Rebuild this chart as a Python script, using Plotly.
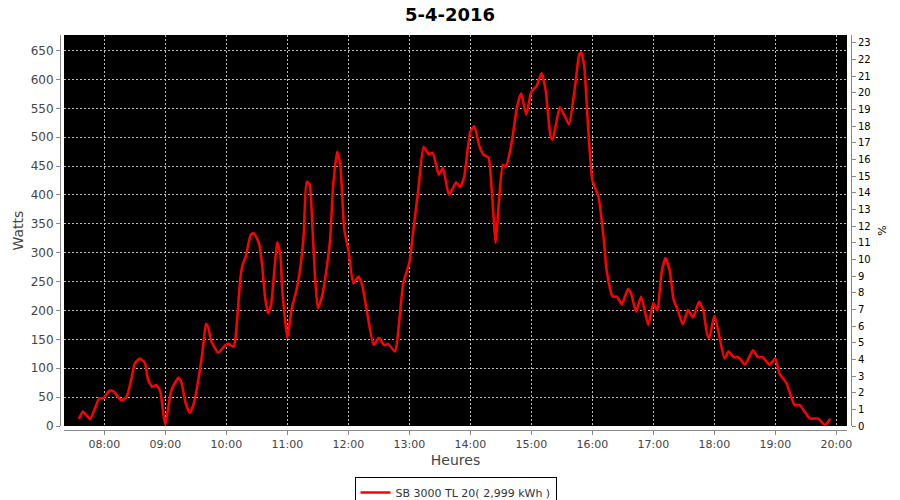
import plotly.graph_objects as go

DAY = "2016-04-05"
times = ["07:35","07:39","07:46","07:55","07:59","08:05","08:09","08:17","08:22","08:27",
         "08:30","08:35","08:40","08:43","08:47","08:51","08:55","08:58","09:00","09:03",
         "09:06","09:13","09:16","09:20","09:24","09:28","09:34","09:37","09:40","09:42",
         "09:45","09:52","09:59","10:02","10:07","10:09","10:14","10:16","10:19","10:24",
         "10:27","10:32","10:35","10:38","10:41","10:44","10:47","10:50","10:53","10:55",
         "11:00","11:04","11:09","11:12","11:16","11:19","11:22","11:24","11:27","11:30",
         "11:34","11:38","11:42","11:45","11:49","11:52","11:56","12:00","12:05","12:10",
         "12:14","12:18","12:25","12:30","12:35","12:39","12:46","12:49","12:54","13:00",
         "13:04","13:09","13:14","13:19","13:23","13:29","13:33","13:39","13:46","13:50",
         "13:54","14:00","14:04","14:09","14:13","14:18","14:21","14:25","14:28","14:32",
         "14:35","14:40","14:46","14:50","14:55","15:00","15:05","15:10","15:14","15:19",
         "15:21","15:28","15:33","15:37","15:43","15:47","15:49","15:52","15:56","16:00",
         "16:06","16:11","16:14","16:20","16:24","16:29","16:35","16:38","16:43","16:48",
         "16:55","17:00","17:04","17:08","17:12","17:16","17:20","17:24","17:29","17:34",
         "17:39","17:45","17:49","17:53","17:55","18:00","18:03","18:10","18:14","18:19",
         "18:24","18:30","18:38","18:43","18:48","18:54","19:00","19:04","19:11","19:19",
         "19:24","19:34","19:42","19:49","19:54"]
watts = [12,25,12,48,48,61,60,44,51,85,
         109,117,109,80,68,71,60,22,2,33,
         62,84,74,39,23,39,97,135,177,172,
         148,127,140,143,137,152,259,279,293,331,
         334,317,282,224,195,210,265,318,299,236,
         152,201,236,265,328,423,418,369,265,204,
         224,265,322,415,475,455,340,305,247,259,
         241,201,140,153,140,142,129,163,247,283,
         340,412,483,471,473,435,447,400,422,414,
         432,510,519,484,470,464,409,317,386,452,
         449,484,553,576,539,579,588,611,582,501,
         496,552,536,522,588,643,647,623,513,426,
         397,328,270,224,224,211,237,230,198,224,
         175,213,200,265,291,270,218,201,176,201,
         188,215,201,158,152,191,172,117,129,119,
         119,106,131,119,119,106,117,91,74,36,
         36,13,13,2,13]

series_name = "SB 3000 TL 20( 2,999 kWh )"
title_text = "5-4-2016"
x_range = ["07:20:20", "20:10:30"]
y_range = [0, 677]
y2_range = [0, 23.48]

x = [f"{DAY} {t}" for t in times]

W, H = 900, 500

fig = go.Figure()
fig.add_trace(go.Scatter(
    x=x, y=watts, mode="lines", name=series_name,
    line=dict(color="#ff0000", width=2.5, shape="spline", smoothing=0.5),
    hoverinfo="skip",
))
fig.add_trace(go.Scatter(x=[None], y=[None], yaxis="y2", showlegend=False, hoverinfo="skip"))

grid = dict(showgrid=True, gridcolor="#bdbdbd", gridwidth=1, griddash="2px,2px")
font = "DejaVu Sans"

fig.update_layout(
    width=W, height=H, autosize=False,
    margin=dict(l=60, r=49, t=35, b=70, pad=0, autoexpand=False),
    paper_bgcolor="white", plot_bgcolor="black",
    font=dict(family=font, color="#444"),
    title=dict(text=f"<b>{title_text}</b>", x=0.5, xref="container", xanchor="center",
               y=1 - 15 / H, yref="container", yanchor="middle",
               font=dict(size=18, color="black", family=font)),
    xaxis=dict(type="date", domain=[4 / 791, 787 / 791], anchor="free", position=0,
               range=[f"{DAY} {x_range[0]}", f"{DAY} {x_range[1]}"],
               tickformat="%H:%M", dtick=3600000, tick0=f"{DAY} 08:00",
               showline=True, linecolor="#888", linewidth=1,
               ticks="outside", ticklen=4, tickcolor="#888",
               tickfont=dict(size=11, color="#444"), zeroline=False,
               title=dict(text="Heures", font=dict(size=14, color="#444"), standoff=4),
               automargin=False, **grid),
    yaxis=dict(domain=[4 / 395, 1], anchor="free", position=0, range=y_range, dtick=50,
               showline=True, linecolor="#888", linewidth=1,
               ticks="outside", ticklen=4, tickcolor="#888",
               tickfont=dict(size=12, color="#444"), zeroline=False,
               title=dict(text="Watts", font=dict(size=14, color="#444"), standoff=2),
               automargin=False, **grid),
    yaxis2=dict(overlaying="y", side="right", anchor="free", position=1, range=y2_range,
                dtick=1, showgrid=False, zeroline=False,
                showline=True, linecolor="#888", linewidth=1,
                ticks="outside", ticklen=4, tickcolor="#888",
                tickfont=dict(size=10, color="black"),
                title=dict(text="%", font=dict(size=11, color="black"), standoff=8),
                automargin=False),
    showlegend=True,
    legend=dict(orientation="h", x=0.5, xanchor="center", y=-0.119, yanchor="top",
                bordercolor="black", borderwidth=1, bgcolor="white",
                font=dict(size=11, color="#333"), itemwidth=30),
)

fig.write_html("out.html", config={"displayModeBar": False},
               post_script="document.body.style.margin='0';")
